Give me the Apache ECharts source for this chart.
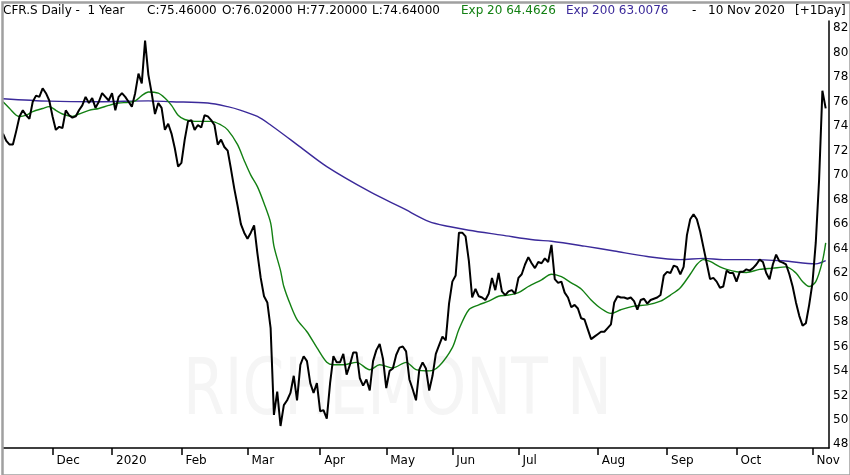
<!DOCTYPE html>
<html>
<head>
<meta charset="utf-8">
<script src="https://cdn.jsdelivr.net/npm/echarts@6/dist/echarts.min.js"></script>
<style>
html,body{margin:0;padding:0;background:#fff;}
#chart{width:850px;height:475px;}
</style>
</head>
<body>
<div id="chart"></div>
<script>
// Daily closes (trading days, 11 Nov 2019 .. 10 Nov 2020)
const closes = [
73.4,72.8,72.5,72.5,73.6,74.8,75.3,74.9,74.6,76.0,
76.5,76.4,77.1,76.7,76.1,74.8,73.7,73.95,73.85,75.3,
74.9,74.7,74.8,75.3,75.7,76.4,75.9,76.3,75.5,76.0,
76.7,76.4,76.1,76.7,75.3,76.4,76.7,76.4,76.0,75.6,
76.7,78.3,77.5,81.0,78.2,76.7,75.0,75.9,75.5,73.7,
74.2,73.4,72.2,70.7,71.0,72.9,74.4,74.5,73.7,74.1,
73.9,74.9,74.8,74.5,74.1,72.5,72.9,72.3,72.0,70.5,
68.9,67.5,66.0,65.3,64.8,65.3,65.9,63.6,61.6,60.1,
59.6,57.5,50.4,52.3,49.5,51.2,51.6,52.2,53.6,51.6,
54.5,55.2,54.8,53.0,52.2,53.0,50.7,50.8,50.1,53.0,
55.2,54.7,54.7,55.4,53.7,54.5,55.5,55.5,53.4,52.8,
53.3,52.4,54.8,55.7,56.2,55.0,52.6,54.0,54.2,55.3,
55.9,56.0,55.6,53.3,52.5,51.6,54.1,54.7,54.2,52.4,
53.6,55.4,56.1,56.8,56.5,59.5,61.3,61.8,65.3,65.3,
65.0,63.0,60.0,60.7,60.1,60.0,59.8,60.3,61.6,60.6,
62.0,60.5,60.2,60.5,60.6,60.3,61.6,61.9,62.7,63.3,
62.8,62.4,62.9,62.8,63.2,62.9,64.3,61.5,61.2,61.3,
60.4,60.0,59.2,59.4,59.1,58.3,58.2,57.4,56.6,56.8,
57.0,57.2,57.2,57.5,57.8,59.6,60.1,60.0,60.0,59.9,
60.0,59.7,59.0,59.8,59.9,59.5,59.8,59.9,60.0,60.2,
61.8,62.1,62.0,62.6,62.5,61.9,62.5,65.1,66.4,66.8,
66.4,65.4,64.1,62.8,61.5,61.6,61.3,60.8,60.9,62.2,
62.0,62.0,61.3,62.1,62.1,62.3,62.2,62.4,62.7,63.1,
62.9,62.0,61.5,62.7,63.5,62.95,62.85,62.7,61.9,60.9,
59.6,58.5,57.7,57.9,59.4,61.2,64.5,69.6,76.9,75.46
];

// Exp 20 readings: [trading-day index, value]
const ema20Points = [
[0,76.0],[2,75.45],[4,74.9],[5,74.8],[7,74.9],[9,75.2],[12,75.45],[14,75.6],[16,75.3],[18,75.0],
[21,74.8],[23,75.0],[26,75.3],[29,75.45],[32,75.7],[35,75.9],[38,75.95],[40,76.07],[42,76.5],[44,76.8],
[47,76.7],[49,76.3],[51,75.7],[53,74.9],[55,74.55],[58,74.4],[61,74.4],[63,74.4],[66,74.1],[68,73.7],
[71,72.5],[73,71.2],[75,70.0],[77,69.06],[79,67.7],[81,66.1],[82,64.2],[84,62.2],[85,60.9],[87,59.4],
[89,58.2],[92,57.2],[95,55.9],[98,54.7],[100,54.5],[103,54.5],[107,54.7],[111,54.1],[114,54.5],[118,54.25],
[122,54.7],[125,54.1],[129,54.0],[132,54.4],[136,55.9],[138,57.4],[141,59.0],[144,59.4],[147,59.7],[150,60.1],
[153,60.2],[156,60.4],[159,60.9],[163,61.45],[166,61.9],[169,61.7],[172,61.2],[175,60.7],[178,59.8],[181,59.1],
[184,58.7],[187,59.0],[191,59.3],[195,59.4],[199,59.7],[202,60.2],[205,60.8],[208,61.9],[210,62.7],[212,63.1],
[214,62.95],[217,62.5],[219,62.3],[222,62.1],[225,62.05],[229,62.3],[233,62.4],[237,62.5],[240,62.0],[242,61.3],
[244,60.9],[246,61.3],[248,62.95],[249,64.46]
];

// Exp 200 readings: [trading-day index, value]
const ema200Points = [
[0,76.25],[14,76.05],[29,76.0],[44,76.07],[51,76.0],[62,75.9],[68,75.6],[72,75.3],[77,74.8],[81,74.1],
[87,72.9],[89,72.5],[98,70.7],[111,68.65],[121,67.3],[129,66.2],[135,65.8],[141,65.5],[151,65.1],[161,64.7],
[166,64.6],[176,64.2],[185,63.8],[195,63.35],[205,63.1],[212,63.2],[218,63.1],[225,63.1],[236,63.0],[246,62.75],
[249,63.01]
];

// Month tick positions (trading-day index) and their labels
const monthTickIndex = [15,33,54,74,96,116,136,156,180,201,222,245];
const monthLabels = ['Dec','2020','Feb','Mar','Apr','May','Jun','Jul','Aug','Sep','Oct','Nov'];

// Price axis labels
const yTicks = [48,50,52,54,56,58,60,62,64,66,68,70,72,74,76,78,80,82];

// Header texts
const headerLeft = 'CFR.S Daily -  1 Year';
const headerC = 'C:75.46000';
const headerO = 'O:76.02000';
const headerH = 'H:77.20000';
const headerL = 'L:74.64000';
const headerExp20 = 'Exp 20 64.4626';
const headerExp200 = 'Exp 200 63.0076';
const headerDate = '10 Nov 2020';
const headerExtra = '[+1Day]';
const watermark = 'RICHEMONT N';

const categories = Array.from({length: closes.length + 1}, (_, i) => String(i));

const FONT = 'DejaVu Sans';
const GREEN = '#138013';
const PURPLE = '#3b2a9a';

const chart = echarts.init(document.getElementById('chart'), null, {renderer: 'canvas'});

function headerText(x, text, color) {
  return {
    type: 'text', left: x, top: 5, z: 10,
    style: {text: text, fill: color || '#000', font: '12px "' + FONT + '"'}
  };
}

chart.setOption({
  animation: false,
  backgroundColor: '#ffffff',
  grid: {left: 3, right: 21, top: 21, bottom: 27, outerBoundsMode: 'none', containLabel: false},
  xAxis: {
    type: 'category',
    data: categories,
    boundaryGap: false,
    axisLine: {lineStyle: {color: '#000', width: 1.5}},
    axisTick: {
      length: 7,
      lineStyle: {color: '#000', width: 1.5},
      interval: (idx) => monthTickIndex.includes(idx)
    },
    axisLabel: {
      interval: (idx) => monthTickIndex.includes(idx),
      formatter: (v, idx) => {
        const k = monthTickIndex.indexOf(Number(v));
        return k >= 0 ? monthLabels[k] : '';
      },
      align: 'left',
      padding: [0, 0, 0, 4],
      margin: 7,
      color: '#000',
      fontFamily: FONT,
      fontSize: 12
    },
    splitLine: {show: false}
  },
  yAxis: {
    type: 'value',
    position: 'right',
    min: 47.7,
    max: 82.6,
    axisLine: {show: true, lineStyle: {color: '#000', width: 1.5}},
    axisTick: {show: false},
    axisLabel: {
      customValues: yTicks,
      color: '#000',
      fontFamily: FONT,
      fontSize: 12,
      margin: 4
    },
    splitLine: {show: false}
  },
  graphic: [
    {
      type: 'rect', left: 0, top: 0, z: 20, silent: true,
      shape: {x: 1, y: 1, width: 848, height: 473},
      style: {fill: 'none', stroke: '#a0a0a0', lineWidth: 2.5}
    },
    {
      type: 'text', left: 183, top: 355, z: 0, scaleY: 1.3,
      style: {text: watermark, fill: '#f5f5f5', font: '60px "' + FONT + '"'}
    },
    headerText(3, headerLeft),
    headerText(147, headerC),
    headerText(222, headerO),
    headerText(297, headerH),
    headerText(372, headerL),
    headerText(461, headerExp20, GREEN),
    headerText(566, headerExp200, PURPLE),
    headerText(692, '-'),
    headerText(708, headerDate),
    headerText(795, headerExtra)
  ],
  series: [
    {
      name: 'Exp 200', type: 'line', data: ema200Points, smooth: 0.3,
      showSymbol: false, lineStyle: {color: PURPLE, width: 1.4}, z: 2
    },
    {
      name: 'Exp 20', type: 'line', data: ema20Points, smooth: 0.3,
      showSymbol: false, lineStyle: {color: GREEN, width: 1.4}, z: 3
    },
    {
      name: 'CFR.S', type: 'line', data: closes,
      showSymbol: false, lineStyle: {color: '#000', width: 2}, z: 4
    }
  ]
});
</script>
</body>
</html>
